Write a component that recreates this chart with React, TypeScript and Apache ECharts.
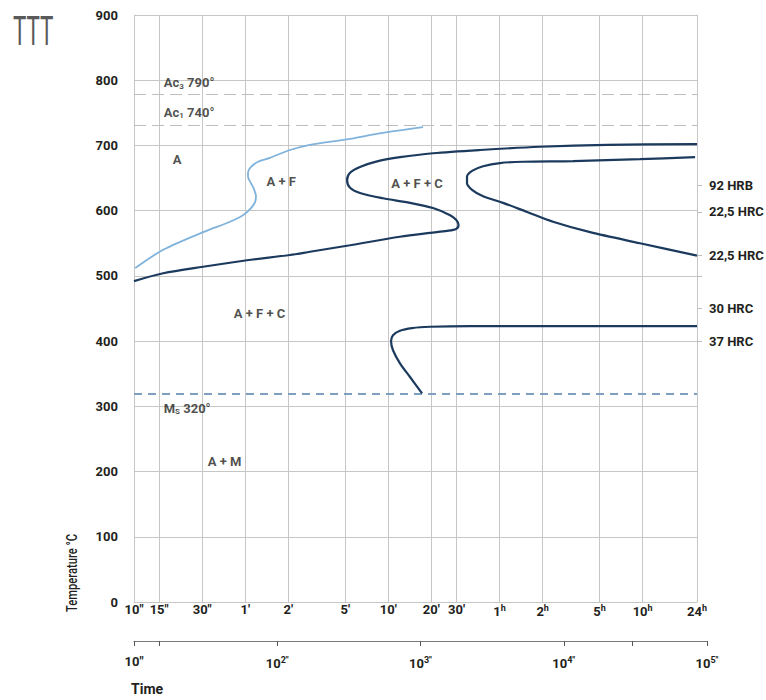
import React, { useEffect, useRef } from 'react';
import * as echarts from 'echarts';

// ---- Data (time in seconds, temperature in °C) ----
const gridTimes = [10, 15, 30, 60, 120, 300, 600, 1200, 1800, 3600, 7200, 18000, 36000, 86400];
const gridTimeMain = ['10″', '15″', '30″', '1′', '2′', '5′', '10′', '20′', '30′', '1', '2', '5', '10', '24'];
const gridTimeSup = ['', '', '', '', '', '', '', '', '', 'h', 'h', 'h', 'h', 'h'];

const decadeTimes = [10, 100, 1000, 10000, 100000];
const decadeExp = ['', '2', '3', '4', '5'];
const decadeTickTimes = [10, 15, 100, 1000, 10000, 30000, 100000];

const tempMin = 0;
const tempMax = 900;
const tempStep = 100;

const hardnessTemps = [639, 598, 532, 450, 400];
const hardnessLabels = ['92 HRB', '22,5 HRC', '22,5 HRC', '30 HRC', '37 HRC'];
const hardnessTickTemps = [639, 598, 532, 500, 450, 400];

const ac3Temp = 778;
const ac1Temp = 731;
const msTemp = 320;

// ferrite start (light blue)
const ferriteTimes = [10.2, 16, 30.4, 46.9, 57.8, 65.8, 70.2, 71.3, 69, 65.8, 62.7, 62.7, 65.8, 73.6, 89.3, 123, 170, 324, 508, 1050];
const ferriteTemps = [512, 540, 567, 583, 593, 604, 613, 622, 633, 642, 652, 659, 667, 675, 681, 693, 701, 710, 718, 728];

// pearlite / carbide start (dark, S-shaped)
const pearliteTimes = [10, 16, 30.4, 61.7, 123, 170, 324, 724, 1175, 1545, 1787, 1859, 1787, 1622, 1233, 851, 551, 380, 324, 309, 324, 380, 508, 724, 1233, 2630, 6900, 20300, 86400];
const pearliteTemps = [492, 504, 514, 524, 532, 537, 547, 560, 566, 569, 572, 578, 586, 593, 604, 612, 619, 627, 635, 647, 658, 667, 676, 682, 688, 693, 698, 701, 702];

// second C-curve (dark, right)
const secondTimes = [83750, 34500, 11750, 5250, 3620, 2760, 2310, 2130, 2130, 2310, 2760, 3800, 5600, 8510, 15450, 34500, 86400];
const secondTemps = [682, 679, 676, 675, 673, 668, 661, 652, 642, 632, 622, 612, 598, 583, 567, 550, 531];

// bainite start (dark, lower)
const bainiteTimes = [1033, 851, 724, 647, 627, 647, 724, 879, 1175, 2240, 86400];
const bainiteTemps = [320, 345, 366, 386, 400, 409, 416, 420, 422, 423, 423];

// region annotations (centred)
const annoTexts = ['A', 'A + F', 'A + F + C', 'A + F + C', 'A + M'];
const annoTimes = [20, 107, 953, 75.5, 43];
const annoTemps = [678, 644, 642, 443, 215];

// critical temperature annotations (left aligned)
const critTexts = ['{b|Ac}{sub|3}{b| 790°}', '{b|Ac}{sub|1}{b| 740°}', '{b|M}{sub|S}{b| 320°}'];
const critTimes = [16, 16, 16];
const critTemps = [796, 751, 297];

const FONT = "Roboto, 'Liberation Sans', sans-serif";
const INK = '#231f20';
const GRID = '#c6c6c6';
const LIGHT_BLUE = '#80b3dc';
const NAVY = '#1b3a5e';

const lg = (t: number) => Math.log10(t);
const toData = (ts: number[], Ts: number[]) => ts.map((t, i) => [lg(t), Ts[i]]);
const idxOf = (arr: number[], v: number) => {
  let best = 0;
  let d = Infinity;
  arr.forEach((a, i) => {
    const dd = Math.abs(a - v);
    if (dd < d) { d = dd; best = i; }
  });
  return best;
};

export default function App() {
  const ref = useRef<HTMLDivElement>(null);

  useEffect(() => {
    const chart = echarts.init(ref.current!, null, { renderer: 'svg' });
    const labelRich = {
      m: { fontFamily: FONT, fontSize: 13, fontWeight: 'bold', color: INK },
      s: { fontFamily: FONT, fontSize: 9, fontWeight: 'bold', color: INK, padding: [0, 0, 8, 0] },
    };
    const curve = (ts: number[], Ts: number[], color: string, width: number) => ({
      type: 'line', xAxisIndex: 0, yAxisIndex: 0, data: toData(ts, Ts),
      smooth: 0.3, showSymbol: false, lineStyle: { color, width }, z: 5,
    });
    const option: any = {
      animation: false,
      textStyle: { fontFamily: FONT },
      grid: [
        { left: 134, top: 15, width: 563, height: 587, outerBoundsMode: 'none', containLabel: false },
        { left: 134, top: 640, width: 573, height: 1, outerBoundsMode: 'none', containLabel: false },
      ],
      xAxis: [
        {
          type: 'value', gridIndex: 0, min: lg(10), max: lg(86400), position: 'bottom',
          axisLine: { show: true, lineStyle: { color: GRID, width: 1 } },
          axisTick: { show: false, customValues: gridTimes.map(lg) },
          axisLabel: {
            customValues: gridTimes.map(lg), margin: 1,
            formatter: (v: number) => {
              const i = idxOf(gridTimes.map(lg), v);
              return `{m|${gridTimeMain[i]}}` + (gridTimeSup[i] ? `{s|${gridTimeSup[i]}}` : '');
            },
            rich: labelRich,
          },
          splitLine: { show: true, lineStyle: { color: GRID, width: 1 } },
        },
        {
          type: 'value', gridIndex: 1, min: lg(10), max: lg(100000), position: 'bottom',
          axisLine: { show: true, lineStyle: { color: '#7a7a7a', width: 1 } },
          axisTick: { show: true, length: 5, customValues: decadeTickTimes.map(lg), lineStyle: { color: '#555' } },
          axisLabel: {
            customValues: decadeTimes.map(lg), margin: 14,
            formatter: (v: number) => {
              const i = idxOf(decadeTimes.map(lg), v);
              return i === 0 ? '{m|10″}' : `{m|10}{s|${decadeExp[i]}″}`;
            },
            rich: labelRich,
          },
          splitLine: { show: false },
        },
      ],
      yAxis: [
        {
          type: 'value', gridIndex: 0, min: tempMin, max: tempMax, interval: tempStep,
          axisLine: { show: true, lineStyle: { color: GRID } },
          axisTick: { show: false },
          axisLabel: { margin: 16, fontFamily: FONT, fontSize: 13, fontWeight: 'bold', color: INK },
          splitLine: { show: true, lineStyle: { color: GRID, width: 1 } },
        },
        {
          type: 'value', gridIndex: 0, position: 'right', min: tempMin, max: tempMax,
          axisLine: { show: true, lineStyle: { color: GRID } },
          axisTick: { show: true, length: 5, customValues: hardnessTickTemps, lineStyle: { color: '#bdbdbd' } },
          axisLabel: {
            customValues: hardnessTemps, margin: 12,
            fontFamily: FONT, fontSize: 13, fontWeight: 'bold', color: INK,
            formatter: (v: number) => hardnessLabels[idxOf(hardnessTemps, v)],
          },
          splitLine: { show: false },
        },
        { type: 'value', gridIndex: 1, show: false, min: 0, max: 1 },
      ],
      series: [
        curve(ferriteTimes, ferriteTemps, LIGHT_BLUE, 1.8),
        curve(pearliteTimes, pearliteTemps, NAVY, 2.2),
        curve(secondTimes, secondTemps, NAVY, 2.2),
        {
          ...curve(bainiteTimes, bainiteTemps, NAVY, 2.2),
          markLine: {
            silent: true, symbol: ['none', 'none'], label: { show: false },
            data: [
              { yAxis: ac3Temp, lineStyle: { color: '#bdbdbd', width: 1, type: [12, 6] } },
              { yAxis: ac1Temp, lineStyle: { color: '#bdbdbd', width: 1, type: [12, 6] } },
              { yAxis: msTemp, lineStyle: { color: '#7f9fc1', width: 2, type: [8, 6] } },
            ],
          },
        },
        {
          type: 'scatter', xAxisIndex: 0, yAxisIndex: 0, data: toData(annoTimes, annoTemps),
          symbolSize: 1, itemStyle: { color: 'rgba(0,0,0,0)' }, z: 6,
          label: {
            show: true, position: 'inside',
            formatter: (p: any) => annoTexts[p.dataIndex],
            fontFamily: FONT, fontSize: 13, fontWeight: 'bold', color: INK,
          },
        },
        {
          type: 'scatter', xAxisIndex: 0, yAxisIndex: 0, data: toData(critTimes, critTemps),
          symbolSize: 1, itemStyle: { color: 'rgba(0,0,0,0)' }, z: 6,
          label: {
            show: true, position: 'right', distance: 0,
            formatter: (p: any) => critTexts[p.dataIndex],
            rich: {
              b: { fontFamily: FONT, fontSize: 13, fontWeight: 'bold', color: INK },
              sub: { fontFamily: FONT, fontSize: 8, fontWeight: 'bold', color: INK, padding: [7, 0, 0, 0] },
            },
          },
        },
      ],
      graphic: [
        {
          type: 'text', x: 13, y: 11, scaleX: 0.56,
          style: { text: 'TTT', fontFamily: FONT, fontWeight: 'normal', fontSize: 40, fill: '#5a5a5a', align: 'left', verticalAlign: 'top' },
        },
        {
          type: 'text', x: 72, y: 573, rotation: Math.PI / 2, scaleX: 0.8,
          style: { text: 'Temperature °C', fontFamily: FONT, fontSize: 14, fontWeight: 500, fill: INK, align: 'center', verticalAlign: 'middle' },
        },
        {
          type: 'text', x: 131, y: 689,
          style: { text: 'Time', fontFamily: FONT, fontSize: 14, fontWeight: 'bold', fill: INK, align: 'left', verticalAlign: 'middle' },
        },
      ],
    };
    chart.setOption(option);
    return () => chart.dispose();
  }, []);

  return <div ref={ref} style={{ position: 'absolute', left: 0, top: 0, width: 766, height: 700 }} />;
}
